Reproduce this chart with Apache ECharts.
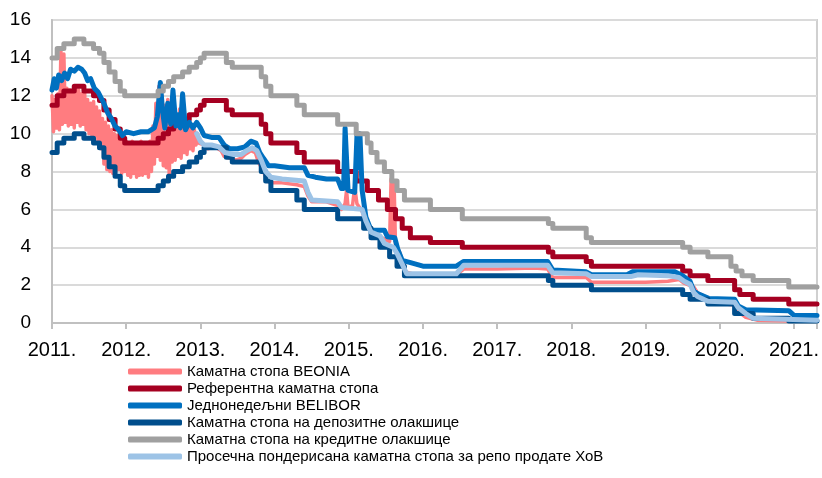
<!DOCTYPE html>
<html>
<head>
<meta charset="utf-8">
<script src="https://cdn.jsdelivr.net/npm/echarts@6/dist/echarts.min.js"></script>
<style>
  html, body { margin: 0; padding: 0; background: #fff; }
  #chart { width: 822px; height: 478px; }
</style>
</head>
<body>
<div id="chart"></div>
<script>
// years on the x axis (decimal years), rates in %
var yearTicks = [2011, 2012, 2013, 2014, 2015, 2016, 2017, 2018, 2019, 2020, 2021];
var seriesNames = [
  'Каматна стопа BEONIA',
  'Референтна каматна стопа',
  'Једнонедељни BELIBOR',
  'Каматна стопа на депозитне олакшице',
  'Каматна стопа на кредитне олакшице',
  'Просечна пондерисана каматна стопа за репо продате ХоВ'
];

// BEONIA, noisy part 2011 - end 2012 (one value every 0.02 year)
var beoniaNoisyStart = 2011.0;
var beoniaNoisyStep = 0.02;
var beoniaNoisy = [
  12.0, 10.1, 11.8, 10.3, 12.1, 10.2,
  14.4, 10.5, 14.2, 10.6, 12.4,
  10.4, 12.3, 10.5, 12.2, 10.3, 12.4, 10.6, 12.3, 10.4, 12.1, 10.5, 12.2,
  10.2, 11.8, 10.0, 11.6, 9.8, 11.7, 9.9, 11.4, 9.6, 11.2,
  9.2, 10.8, 8.4, 10.6, 8.1, 10.4, 8.0, 10.2, 7.9, 10.0, 8.0, 9.9, 8.1, 9.8, 7.9, 9.7, 8.0,
  9.6, 7.8, 9.5, 7.7, 9.6, 7.9, 9.4, 7.7, 9.5, 7.8, 9.6, 7.8, 9.4, 7.9, 9.5, 7.7, 9.6, 8.0,
  10.4, 8.4, 11.6, 8.8, 12.5,
  8.6, 12.0, 8.3, 11.5, 8.2, 11.8, 7.7, 11.2, 8.5, 11.6, 8.6, 11.0, 8.8, 11.3, 8.7, 10.8, 9.0, 10.6, 8.9, 10.5, 9.2, 10.3, 9.1,
  10.2, 9.4, 10.0, 9.5
];
var beoniaLater = [
  [2013.0, 9.6], [2013.05, 9.4], [2013.1, 9.2], [2013.2, 9.3], [2013.28, 9.1], [2013.32, 8.8],
  [2013.4, 8.7], [2013.48, 8.6], [2013.55, 8.7], [2013.6, 8.9], [2013.68, 9.1], [2013.74, 9.0],
  [2013.78, 8.5], [2013.85, 8.0], [2013.9, 7.5], [2013.95, 7.4], [2014.1, 7.4], [2014.3, 7.3],
  [2014.4, 7.2], [2014.45, 6.7], [2014.5, 6.4], [2014.7, 6.4], [2014.85, 6.2], [2014.9, 6.0],
  [2014.95, 6.3], [2014.97, 7.0], [2014.99, 6.1], [2015.05, 6.2], [2015.08, 7.2], [2015.11, 6.3],
  [2015.18, 5.9], [2015.25, 5.0], [2015.35, 4.8], [2015.45, 4.5], [2015.55, 4.3], [2015.57, 7.6],
  [2015.59, 4.5], [2015.61, 7.5], [2015.63, 4.0], [2015.68, 3.8], [2015.72, 3.3], [2015.77, 2.7],
  [2015.9, 2.55], [2016.2, 2.5], [2016.45, 2.55], [2016.55, 2.85], [2017.0, 2.85], [2017.5, 2.9],
  [2017.68, 2.85], [2017.75, 2.4], [2018.2, 2.4], [2018.27, 2.15], [2019.0, 2.15], [2019.3, 2.2],
  [2019.45, 2.3], [2019.52, 2.1], [2019.65, 1.9], [2019.7, 1.6], [2019.85, 1.3], [2019.95, 1.05],
  [2020.2, 0.95], [2020.25, 0.6], [2020.35, 0.3], [2020.5, 0.15], [2020.95, 0.1], [2021.31, 0.1]
];

// key policy rate (step changes)
var keyRate = [
  [2011.0, 11.5], [2011.07, 12.0], [2011.16, 12.25], [2011.3, 12.5], [2011.43, 12.25],
  [2011.56, 12.0], [2011.64, 11.75], [2011.7, 11.25], [2011.77, 10.75], [2011.85, 10.25],
  [2011.92, 9.75], [2011.98, 9.5], [2012.43, 9.75], [2012.5, 10.0], [2012.57, 10.25],
  [2012.64, 10.5], [2012.76, 10.75], [2012.85, 11.0], [2012.95, 11.25], [2013.0, 11.5],
  [2013.05, 11.75], [2013.35, 11.25], [2013.43, 11.0], [2013.82, 10.5], [2013.88, 10.0],
  [2013.95, 9.5], [2014.3, 9.0], [2014.4, 8.5], [2014.85, 8.0], [2015.1, 7.5], [2015.25, 7.0],
  [2015.4, 6.5], [2015.52, 6.0], [2015.63, 5.5], [2015.72, 5.0], [2015.83, 4.5], [2016.1, 4.25],
  [2016.53, 4.0], [2017.69, 3.75], [2017.75, 3.5], [2018.2, 3.25], [2018.27, 3.0], [2019.5, 2.75],
  [2019.6, 2.5], [2019.84, 2.25], [2020.2, 1.75], [2020.27, 1.5], [2020.45, 1.25], [2020.93, 1.0],
  [2021.31, 1.0]
];

// one-week BELIBOR
var belibor = [
  [2011.0, 12.3], [2011.03, 12.9], [2011.06, 12.4], [2011.09, 13.1], [2011.13, 12.8], [2011.17, 13.2],
  [2011.21, 12.9], [2011.25, 13.4], [2011.3, 13.3], [2011.35, 13.5], [2011.4, 13.4], [2011.44, 13.2],
  [2011.48, 12.8], [2011.52, 12.9], [2011.57, 12.4], [2011.62, 12.2], [2011.66, 11.9], [2011.7, 11.6],
  [2011.75, 11.1], [2011.8, 10.8], [2011.85, 10.4], [2011.9, 10.2], [2011.95, 9.9], [2012.0, 10.1],
  [2012.1, 10.0], [2012.2, 10.1], [2012.3, 10.1], [2012.38, 10.3], [2012.42, 10.9], [2012.46, 12.7],
  [2012.49, 11.2], [2012.52, 10.3], [2012.56, 11.6], [2012.6, 10.5], [2012.63, 12.3], [2012.67, 10.4],
  [2012.7, 11.0], [2012.73, 10.3], [2012.76, 12.1], [2012.8, 10.2], [2012.85, 10.6], [2012.9, 10.3],
  [2012.95, 10.6], [2013.0, 10.3], [2013.05, 9.9], [2013.15, 9.8], [2013.25, 9.8], [2013.32, 9.4],
  [2013.4, 9.2], [2013.5, 9.2], [2013.6, 9.3], [2013.68, 9.6], [2013.75, 9.5], [2013.8, 9.0],
  [2013.85, 8.7], [2013.92, 8.3], [2014.0, 8.3], [2014.2, 8.2], [2014.4, 8.2], [2014.45, 7.8],
  [2014.55, 7.7], [2014.7, 7.6], [2014.85, 7.6], [2014.9, 7.1], [2014.93, 7.1], [2014.95, 10.3],
  [2014.97, 10.2], [2014.99, 7.0], [2015.08, 6.9], [2015.11, 9.9], [2015.13, 8.2], [2015.15, 10.0],
  [2015.18, 7.0], [2015.23, 5.6], [2015.3, 4.9], [2015.48, 4.9], [2015.52, 4.55], [2015.62, 4.5],
  [2015.66, 3.9], [2015.72, 3.3], [2015.82, 3.2], [2016.0, 3.0], [2016.45, 3.0], [2016.55, 3.25],
  [2017.68, 3.25], [2017.75, 2.8], [2018.2, 2.7], [2018.27, 2.55], [2018.75, 2.55], [2018.82, 2.7],
  [2019.4, 2.7], [2019.5, 2.5], [2019.6, 2.2], [2019.65, 1.7], [2019.7, 1.55], [2019.85, 1.3],
  [2020.2, 1.25], [2020.25, 0.9], [2020.35, 0.7], [2020.93, 0.65], [2021.0, 0.4], [2021.31, 0.4]
];

// deposit facility rate (step changes)
var depositRate = [
  [2011.0, 9.0], [2011.07, 9.5], [2011.16, 9.75], [2011.3, 10.0], [2011.43, 9.75], [2011.56, 9.5],
  [2011.64, 9.25], [2011.7, 8.75], [2011.77, 8.25], [2011.85, 7.75], [2011.92, 7.25], [2011.98, 7.0],
  [2012.43, 7.25], [2012.5, 7.5], [2012.57, 7.75], [2012.64, 8.0], [2012.76, 8.25], [2012.85, 8.5],
  [2012.95, 8.75], [2013.0, 9.0], [2013.05, 9.25], [2013.35, 8.75], [2013.43, 8.5], [2013.82, 8.0],
  [2013.88, 7.5], [2013.95, 7.0], [2014.3, 6.5], [2014.4, 6.0], [2014.85, 5.5], [2015.2, 5.0],
  [2015.3, 4.5], [2015.42, 4.0], [2015.55, 3.5], [2015.65, 3.0], [2015.75, 2.5], [2017.69, 2.25],
  [2017.75, 2.0], [2018.27, 1.75], [2019.5, 1.5], [2019.6, 1.25], [2019.84, 1.0], [2020.2, 0.5],
  [2020.45, 0.25], [2020.93, 0.1], [2021.31, 0.1]
];

// lending facility rate (step changes)
var lendingRate = [
  [2011.0, 14.0], [2011.07, 14.5], [2011.16, 14.75], [2011.3, 15.0], [2011.43, 14.75], [2011.56, 14.5],
  [2011.64, 14.25], [2011.7, 13.75], [2011.77, 13.25], [2011.85, 12.75], [2011.92, 12.25], [2011.98, 12.0],
  [2012.43, 12.25], [2012.5, 12.5], [2012.57, 12.75], [2012.64, 13.0], [2012.76, 13.25], [2012.85, 13.5],
  [2012.95, 13.75], [2013.0, 14.0], [2013.05, 14.25], [2013.35, 13.75], [2013.43, 13.5], [2013.82, 13.0],
  [2013.88, 12.5], [2013.95, 12.0], [2014.3, 11.5], [2014.4, 11.0], [2014.85, 10.5], [2015.1, 10.0],
  [2015.25, 9.5], [2015.3, 9.0], [2015.38, 8.5], [2015.48, 8.0], [2015.58, 7.5], [2015.65, 7.0],
  [2015.75, 6.5], [2016.1, 6.0], [2016.53, 5.5], [2017.69, 5.25], [2017.75, 5.0], [2018.2, 4.5],
  [2018.27, 4.25], [2019.5, 4.0], [2019.6, 3.75], [2019.84, 3.5], [2020.15, 3.0], [2020.22, 2.75],
  [2020.3, 2.5], [2020.45, 2.25], [2020.93, 1.9], [2021.31, 1.9]
];

// weighted average repo rate
var repoRate = [
  [2012.95, 10.0], [2013.0, 9.6], [2013.05, 9.4], [2013.15, 9.4], [2013.25, 9.3], [2013.33, 9.0],
  [2013.45, 8.9], [2013.55, 8.9], [2013.62, 9.1], [2013.7, 9.25], [2013.76, 9.1], [2013.82, 8.6],
  [2013.88, 8.0], [2013.95, 7.7], [2014.1, 7.6], [2014.4, 7.5], [2014.45, 6.9], [2014.5, 6.5],
  [2014.85, 6.4], [2014.9, 6.1], [2015.18, 6.0], [2015.23, 5.4], [2015.3, 4.8], [2015.42, 4.6],
  [2015.48, 4.2], [2015.6, 4.0], [2015.66, 3.6], [2015.72, 3.1], [2015.78, 2.6], [2016.45, 2.6],
  [2016.55, 3.05], [2017.68, 3.05], [2017.75, 2.65], [2018.2, 2.6], [2018.27, 2.45], [2018.8, 2.45],
  [2018.9, 2.55], [2019.3, 2.5], [2019.45, 2.4], [2019.52, 2.2], [2019.6, 2.05], [2019.65, 1.6],
  [2019.7, 1.4], [2019.84, 1.15], [2020.2, 1.1], [2020.25, 0.8], [2020.35, 0.5], [2020.45, 0.25],
  [2021.31, 0.15]
];

var colors = ['#FF7C80', '#A50021', '#0070C0', '#004E8C', '#A0A0A0', '#9DC3E6'];

var beonia = beoniaNoisy.map(function (v, i) {
  return [beoniaNoisyStart + i * beoniaNoisyStep, v];
}).concat(beoniaLater);

var font = '"Liberation Sans", Arial, sans-serif';

function line(idx, data, width, step) {
  return {
    name: seriesNames[idx],
    type: 'line',
    data: data,
    step: step || false,
    showSymbol: false,
    symbol: 'none',
    color: colors[idx],
    lineStyle: { width: width, color: colors[idx], cap: 'round', join: 'round' },
    animation: false
  };
}

var chart = echarts.init(document.getElementById('chart'));
chart.setOption({
  animation: false,
  grid: {
    left: 52, right: 4, top: 20, bottom: 155,
    show: true, borderColor: '#d0d0d0', borderWidth: 2
  },
  legend: {
    orient: 'vertical',
    left: 128, top: 363, height: 115,
    padding: 0,
    itemWidth: 54, itemHeight: 6, itemGap: 0,
    icon: 'roundRect',
    textStyle: { fontFamily: font, fontSize: 15, color: '#000', lineHeight: 17 },
    data: seriesNames
  },
  xAxis: {
    type: 'value',
    min: 2011, max: 2021.31, interval: 1,
    axisLine: { lineStyle: { color: '#c0c0c0', width: 2 } },
    axisTick: { show: true, length: 6, lineStyle: { color: '#c0c0c0', width: 2 } },
    axisLabel: {
      fontFamily: font, fontSize: 20, color: '#000', margin: 17,
      formatter: function (v) { return yearTicks.indexOf(v) >= 0 ? v + '.' : ''; }
    },
    splitLine: { show: false }
  },
  yAxis: {
    type: 'value',
    min: 0, max: 16, interval: 2,
    axisLine: { show: true, lineStyle: { color: '#c0c0c0', width: 2 } },
    axisTick: { show: false },
    axisLabel: { fontFamily: font, fontSize: 19, color: '#000', margin: 21 },
    splitLine: { lineStyle: { color: '#dadada', width: 2 } }
  },
  series: [
    line(0, beonia, 3.5),
    line(1, keyRate, 5, 'end'),
    line(2, belibor, 5),
    line(3, depositRate, 5, 'end'),
    line(4, lendingRate, 5, 'end'),
    line(5, repoRate, 5)
  ]
});
</script>
</body>
</html>
